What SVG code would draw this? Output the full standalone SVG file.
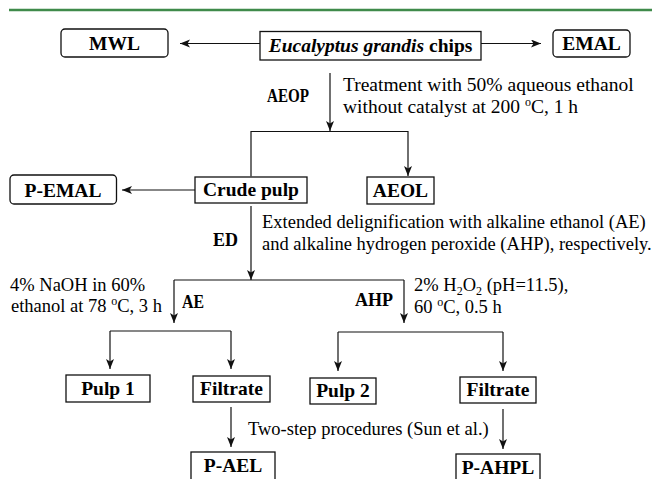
<svg xmlns="http://www.w3.org/2000/svg" width="652" height="479" viewBox="0 0 652 479">
<defs>
<style>
.box{fill:#fff;stroke:#111;stroke-width:1.3}
.ln{fill:none;stroke:#111;stroke-width:1.2}
.b{font-weight:bold;font-size:19.5px;fill:#000;text-anchor:middle}
.lb{font-weight:bold;font-size:18px;fill:#000}
.t{font-size:18.5px;fill:#000}
.t2{font-size:19.5px;fill:#000}
.sup{font-size:12px}
</style>
<marker id="ah" markerUnits="userSpaceOnUse" markerWidth="11" markerHeight="9" refX="10" refY="4" orient="auto">
<path d="M0,0 L10,4 L0,8 L2.5,4 z" fill="#111"/>
</marker>
</defs>
<line x1="9" y1="10" x2="652" y2="10" stroke="#3f8a4a" stroke-width="2.5"/>

<g id="connectors">
<line class="ln" x1="260" y1="43.5" x2="180" y2="43.5" marker-end="url(#ah)"/>
<line class="ln" x1="481" y1="43.5" x2="541" y2="43.5" marker-end="url(#ah)"/>
<line class="ln" x1="330" y1="73" x2="330" y2="131" marker-end="url(#ah)"/>
<polyline class="ln" points="251,176 251,131.5 408,131.5 408,176" marker-start="url(#ah)" marker-end="url(#ah)"/>
<line class="ln" x1="195" y1="190" x2="122" y2="190" marker-end="url(#ah)"/>
<line class="ln" x1="251" y1="206" x2="251" y2="280" marker-end="url(#ah)"/>
<line class="ln" x1="174" y1="280" x2="404" y2="280"/>
<line class="ln" x1="174" y1="280" x2="174" y2="323" marker-end="url(#ah)"/>
<line class="ln" x1="404" y1="280" x2="404" y2="323" marker-end="url(#ah)"/>
<line class="ln" x1="110" y1="331" x2="231" y2="331"/>
<line class="ln" x1="110" y1="331" x2="110" y2="369" marker-end="url(#ah)"/>
<line class="ln" x1="231" y1="331" x2="231" y2="369" marker-end="url(#ah)"/>
<line class="ln" x1="338" y1="332" x2="503" y2="332"/>
<line class="ln" x1="338" y1="332" x2="338" y2="371" marker-end="url(#ah)"/>
<line class="ln" x1="503" y1="332" x2="503" y2="371" marker-end="url(#ah)"/>
<line class="ln" x1="231" y1="407" x2="231" y2="447" marker-end="url(#ah)"/>
<line class="ln" x1="503" y1="409" x2="503" y2="449" marker-end="url(#ah)"/>
</g>

<g font-family="Liberation Serif, Tinos, DejaVu Serif, Times New Roman, serif">
<g id="MWL"><rect class="box" x="61" y="29" width="107" height="28" rx="4"/><text class="b" x="114.5" y="50">MWL</text></g>
<g id="chips"><rect class="box" x="260" y="31.5" width="221" height="28.5"/><text class="b" x="370.5" y="51.5"><tspan font-style="italic">Eucalyptus grandis</tspan> chips</text></g>
<g id="EMAL"><rect class="box" x="553" y="30" width="77" height="27" rx="4"/><text class="b" x="591.5" y="50">EMAL</text></g>

<g id="AEOP-label"><text class="lb" x="267" y="102" textLength="42" lengthAdjust="spacingAndGlyphs">AEOP</text>
<text class="t2" x="343" y="91">Treatment with 50% aqueous ethanol</text>
<text class="t2" x="343" y="113">without catalyst at 200 <tspan class="sup" dy="-7">o</tspan><tspan dy="7">C, 1 h</tspan></text></g>

<g id="P-EMAL"><rect class="box" x="10" y="175" width="106.5" height="29" rx="4"/><text class="b" x="63" y="196.5">P-EMAL</text></g>
<g id="Crude-pulp"><rect class="box" x="195" y="177" width="112" height="26"/><text class="b" x="251" y="196">Crude pulp</text></g>
<g id="AEOL"><rect class="box" x="367" y="177" width="67" height="27"/><text class="b" x="400.5" y="197">AEOL</text></g>

<g id="ED-label"><text class="lb" x="238" y="246" text-anchor="end">ED</text>
<text class="t" x="262" y="228">Extended delignification with alkaline ethanol (AE)</text>
<text class="t" x="262" y="250">and alkaline hydrogen peroxide (AHP), respectively.</text></g>

<g id="AE-label"><text class="t" x="10" y="291">4% NaOH in 60%</text>
<text class="t" x="11" y="312">ethanol at 78 <tspan class="sup" dy="-7">o</tspan><tspan dy="7">C, 3 h</tspan></text>
<text class="lb" x="182" y="308" textLength="22" lengthAdjust="spacingAndGlyphs">AE</text></g>
<g id="AHP-label"><text class="lb" x="393" y="306" text-anchor="end">AHP</text>
<text class="t" x="414" y="291">2% H<tspan class="sup" dy="4">2</tspan><tspan dy="-4">O</tspan><tspan class="sup" dy="4">2</tspan><tspan dy="-4"> (pH=11.5),</tspan></text>
<text class="t" x="414" y="313">60 <tspan class="sup" dy="-7">o</tspan><tspan dy="7">C, 0.5 h</tspan></text></g>

<g id="Pulp1"><rect class="box" x="66" y="375" width="84" height="27"/><text class="b" x="108" y="395">Pulp 1</text></g>
<g id="Filtrate1"><rect class="box" x="193" y="376" width="77" height="26"/><text class="b" x="231.5" y="395">Filtrate</text></g>
<g id="Pulp2"><rect class="box" x="310" y="378" width="66" height="26"/><text class="b" x="343" y="397">Pulp 2</text></g>
<g id="Filtrate2"><rect class="box" x="460" y="377" width="76" height="26"/><text class="b" x="498" y="396">Filtrate</text></g>

<text class="t" x="248" y="435">Two-step procedures (Sun et al.)</text>

<g id="P-AEL"><rect class="box" x="191" y="452" width="84" height="40"/><text class="b" x="233" y="472">P-AEL</text></g>
<g id="P-AHPL"><rect class="box" x="456" y="454" width="84" height="40"/><text class="b" x="498" y="474">P-AHPL</text></g>
</g>
</svg>
